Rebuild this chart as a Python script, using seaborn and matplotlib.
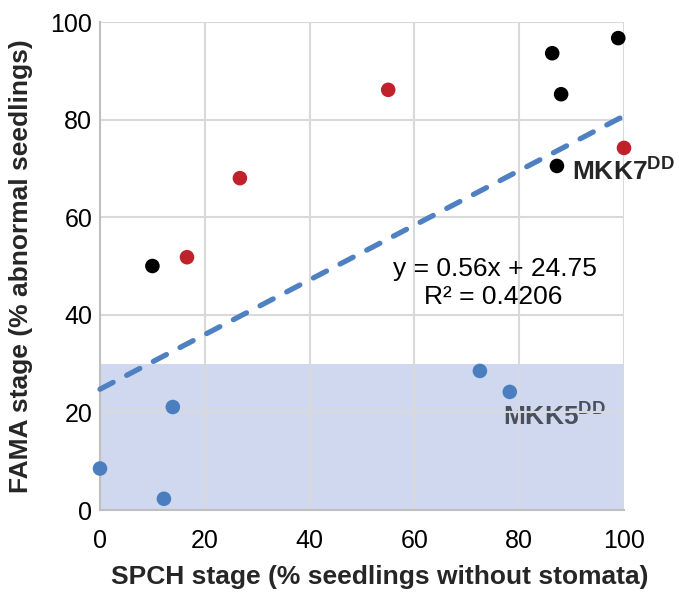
import numpy as np
import pandas as pd
import matplotlib
matplotlib.use("Agg")
import matplotlib.pyplot as plt
import seaborn as sns

# ---- data ----
black_x = [10.0, 86.3, 98.9, 88.0, 87.2]
black_y = [50.0, 93.6, 96.7, 85.2, 70.5]
red_x = [16.6, 26.7, 55.0, 100.0]
red_y = [51.8, 68.0, 86.1, 74.2]
blue_x = [0.0, 13.9, 12.2, 72.5, 78.2]
blue_y = [8.5, 21.1, 2.3, 28.5, 24.2]

trend_slope = 0.56
trend_intercept = 24.75
trend_r2 = 0.4206
shade_ymax = 30
x_ticks = [0, 20, 40, 60, 80, 100]
y_ticks = [0, 20, 40, 60, 80, 100]

groups = (["black"] * len(black_x) + ["red"] * len(red_x) + ["blue"] * len(blue_x))
df = pd.DataFrame({
    "SPCH": black_x + red_x + blue_x,
    "FAMA": black_y + red_y + blue_y,
    "group": groups,
})
palette = {"black": "#000000", "red": "#C0212B", "blue": "#4A7EBF"}

sns.set_theme(style="white")
plt.rcParams["font.family"] = ["Liberation Sans", "DejaVu Sans"]
plt.rcParams["mathtext.fontset"] = "custom"
plt.rcParams["mathtext.rm"] = "Liberation Sans"
plt.rcParams["mathtext.bf"] = "Liberation Sans:bold"

fig = plt.figure(figsize=(6.79, 5.94), dpi=100)
ax = fig.add_axes([100 / 679, 1 - 510 / 594, 524 / 679, 488 / 594])

# shaded region
ax.axhspan(0, shade_ymax, xmin=0, xmax=1, color="#CFD8EE", zorder=0.3, lw=0)

# grid
ax.set_axisbelow(True)
ax.grid(True, color="#D9D9D9", lw=1.5)
for s in ["top", "right"]:
    ax.spines[s].set_visible(False)
for s in ["left", "bottom"]:
    ax.spines[s].set_color("#BFBFBF")
    ax.spines[s].set_linewidth(1.5)

# trend line
tx = np.array([0, 100])
tdf = pd.DataFrame({"x": tx, "y": trend_slope * tx + trend_intercept})
sns.lineplot(data=tdf, x="x", y="y", ax=ax, color="#4F81C2", lw=3.8,
             dashes=False, zorder=3)
tl = ax.lines[-1]
tl.set_linestyle((0, (2.8, 2.9)))
tl.set_dash_capstyle("round")
tl.set_clip_on(False)

sns.scatterplot(data=df, x="SPCH", y="FAMA", hue="group", palette=palette,
                s=110, edgecolor="none", legend=False, ax=ax, zorder=4,
                clip_on=False)

ax.set_xlim(0, 100)
ax.set_ylim(0, 100)
ax.set_xticks(x_ticks)
ax.set_yticks(y_ticks)
ax.tick_params(axis="both", labelsize=18, colors="#000000", length=0)
ax.tick_params(axis="x", pad=14)
ax.tick_params(axis="y", pad=5.5)
ax.set_xlabel("SPCH stage (% seedlings without stomata)", fontsize=19,
              fontweight="bold", va="center")
ax.xaxis.set_label_coords(0.533, -0.137)
ax.set_ylabel("FAMA stage (% abnormal seedlings)", fontsize=19,
              fontweight="bold", va="center")
ax.yaxis.set_label_coords(-0.150, 0.5)

ax.text(75.4, 49.4, f"y = {trend_slope}x + {trend_intercept}", fontsize=19,
        ha="center", va="center", color="#000000")
ax.text(75.0, 43.6, f"R² = {trend_r2}", fontsize=19,
        ha="center", va="center", color="#000000")

ax.text(90.1, 69.3, r"$\mathbf{MKK7^{DD}}$", fontsize=19, ha="left",
        va="center", color="#262626", zorder=5)
ax.text(76.9, 19.0, r"$\mathbf{MKK5^{DD}}$", fontsize=19, ha="left",
        va="center", color="#4A4F5C", zorder=0.4)

fig.savefig("out.png", dpi=100)
